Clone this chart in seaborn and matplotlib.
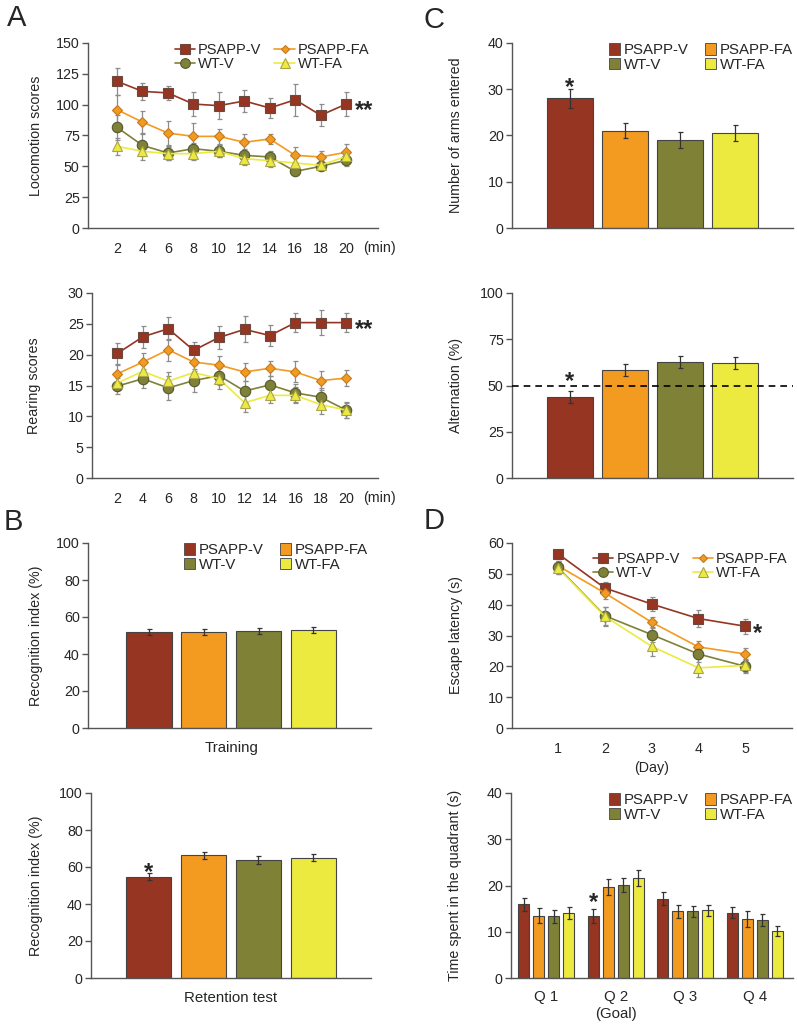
import numpy as np
import pandas as pd
import matplotlib
matplotlib.use("Agg")
import matplotlib.pyplot as plt
import seaborn as sns
from matplotlib.lines import Line2D
from matplotlib.patches import Patch

sns.set_style("white")
plt.rcParams["font.family"] = ["Liberation Sans", "DejaVu Sans"]

# ---------------------------------------------------------------------------
# data
# ---------------------------------------------------------------------------
groups = ["PSAPP-V", "PSAPP-FA", "WT-V", "WT-FA"]
minutes = [2, 4, 6, 8, 10, 12, 14, 16, 18, 20]
days = [1, 2, 3, 4, 5]
quadrants = ["Q 1", "Q 2\n(Goal)", "Q 3", "Q 4"]

loco_mean = {
    "PSAPP-V": [118.9, 110.8, 109.5, 100.5, 99.2, 103.0, 97.3, 104.0, 91.4, 100.5],
    "PSAPP-FA": [95.9, 85.9, 77.0, 74.3, 74.3, 69.5, 72.2, 58.9, 57.6, 61.4],
    "WT-V": [81.6, 67.0, 60.8, 64.3, 62.2, 58.9, 57.6, 45.9, 50.0, 54.9],
    "WT-FA": [66.2, 62.2, 60.3, 60.3, 62.2, 56.2, 54.6, 52.7, 50.8, 58.1],
}
loco_err = {
    "PSAPP-V": [11, 7, 6, 10, 11, 9, 8, 13, 9, 10],
    "PSAPP-FA": [12, 9, 10, 11, 6, 7, 4, 7, 5, 7],
    "WT-V": [10, 9, 6, 5, 5, 5, 5, 3, 3, 5],
    "WT-FA": [7, 7, 5, 5, 5, 5, 5, 4, 3, 4],
}
rear_mean = {
    "PSAPP-V": [20.2, 22.9, 24.2, 20.7, 22.8, 24.1, 23.1, 25.2, 25.2, 25.2],
    "PSAPP-FA": [16.9, 18.8, 20.8, 18.8, 18.3, 17.2, 17.8, 17.2, 15.8, 16.2],
    "WT-V": [14.9, 16.1, 14.6, 15.8, 16.6, 14.1, 15.1, 13.8, 13.1, 11.0],
    "WT-FA": [15.4, 17.3, 15.7, 17.1, 16.1, 12.2, 13.4, 13.4, 11.9, 11.0],
}
rear_err = {
    "PSAPP-V": [1.7, 1.8, 1.9, 1.4, 1.8, 2.1, 1.7, 1.5, 2.0, 1.6],
    "PSAPP-FA": [1.5, 1.5, 1.8, 1.4, 1.5, 1.5, 1.2, 1.7, 1.6, 1.3],
    "WT-V": [1.3, 1.5, 2.0, 1.8, 1.5, 1.7, 1.4, 1.4, 1.5, 1.2],
    "WT-FA": [1.2, 1.4, 1.5, 1.3, 1.7, 1.5, 1.2, 1.3, 1.5, 1.3],
}
training_mean = [51.8, 52.1, 52.5, 52.8]
training_err = [1.6, 1.6, 1.7, 1.6]
retention_mean = [54.8, 66.3, 63.8, 65.1]
retention_err = [2.0, 2.0, 2.0, 2.0]
arms_mean = [28.0, 21.0, 19.0, 20.6]
arms_err = [2.0, 1.6, 1.8, 1.7]
alt_mean = [43.8, 58.4, 62.6, 62.2]
alt_err = [3.0, 3.3, 3.2, 3.3]
latency_mean = {
    "PSAPP-V": [56.5, 45.4, 40.2, 35.5, 33.0],
    "PSAPP-FA": [52.6, 43.8, 34.3, 26.3, 24.0],
    "WT-V": [52.1, 36.4, 30.3, 24.0, 20.0],
    "WT-FA": [51.9, 36.2, 26.5, 19.5, 20.3],
}
latency_err = {
    "PSAPP-V": [1.0, 2.0, 2.3, 2.7, 2.5],
    "PSAPP-FA": [1.5, 2.0, 1.8, 2.0, 1.8],
    "WT-V": [2.0, 3.0, 2.5, 2.5, 2.0],
    "WT-FA": [2.0, 3.0, 3.0, 2.8, 2.0],
}
quad_mean = {
    "PSAPP-V": [15.9, 13.5, 17.1, 14.1],
    "PSAPP-FA": [13.5, 19.7, 14.4, 12.8],
    "WT-V": [13.3, 20.2, 14.4, 12.5],
    "WT-FA": [14.1, 21.6, 14.6, 10.1],
}
quad_err = {
    "PSAPP-V": [1.5, 1.5, 1.4, 1.2],
    "PSAPP-FA": [1.7, 1.7, 1.4, 1.7],
    "WT-V": [1.3, 1.5, 1.2, 1.3],
    "WT-FA": [1.3, 1.7, 1.2, 1.1],
}

# styles
colors = ["#953522", "#F39A21", "#7E8136", "#EDEA3F"]
edges = ["#6a4a40", "#c27a20", "#55582c", "#a9a548"]
markers = ["s", "D", "o", "^"]
msizes = [7.5, 5.0, 7.5, 7.0]
palette = dict(zip(groups, colors))
SPINE = "#555555"
FS = 10.3

W, H = 797, 1027
fig = plt.figure(figsize=(W / 100, H / 100), dpi=100)


def make_ax(left, right, top, bottom):
    return fig.add_axes([left / W, 1 - bottom / H, (right - left) / W, (bottom - top) / H])


def style(ax, ymax, step, ylabel, label_x):
    ax.set_ylim(0, ymax)
    ax.set_yticks(np.arange(0, ymax + 0.1, step))
    for s in ["top", "right"]:
        ax.spines[s].set_visible(False)
    for s in ["left", "bottom"]:
        ax.spines[s].set_color(SPINE)
        ax.spines[s].set_linewidth(1.0)
    ax.tick_params(axis="y", length=4, width=1, color=SPINE, direction="out",
                   labelsize=FS, pad=2, left=True)
    ax.tick_params(axis="x", length=0, labelsize=FS, pad=10)
    ax.set_ylabel(ylabel, fontsize=FS)
    ax.yaxis.set_label_coords(label_x, 0.5)
    ax.set_xlabel("")


def line_legend(ax, anchor):
    order = [0, 2, 1, 3]
    handles = [Line2D([], [], color=colors[i], marker=markers[i], ms=msizes[i] - 0.5,
                      mec=edges[i], mew=0.8, lw=1.2) for i in order]
    ax.legend(handles, [groups[i] for i in order], ncol=2, frameon=False,
              loc="upper right", bbox_to_anchor=anchor, fontsize=FS + 0.2,
              handlelength=1.4, handletextpad=0.2, columnspacing=0.9,
              labelspacing=0.0, borderpad=0, borderaxespad=0)


def bar_legend(ax, anchor):
    order = [0, 2, 1, 3]
    handles = [Patch(facecolor=colors[i], edgecolor="#555555", lw=0.7) for i in order]
    ax.legend(handles, [groups[i] for i in order], ncol=2, frameon=False,
              loc="upper right", bbox_to_anchor=anchor, fontsize=FS + 0.5,
              handlelength=0.75, handleheight=0.8, handletextpad=0.25,
              columnspacing=1.1, labelspacing=0.05, borderpad=0, borderaxespad=0)


def line_panel(ax, x, means, errs):
    for g in groups:
        ax.errorbar(x, means[g], yerr=errs[g], fmt="none", ecolor="#8c8c8c",
                    elinewidth=0.9, capsize=1.8, capthick=0.9, zorder=2)
    for g, c, e, m, ms in zip(groups, colors, edges, markers, msizes):
        sns.lineplot(x=x, y=means[g], color=c, marker=m, ms=ms, mec=e, mew=0.8,
                     lw=1.2, ax=ax, zorder=3)


def bar_panel(ax, means, errs):
    df = pd.DataFrame({"group": groups, "value": means})
    sns.barplot(data=df, x="group", y="value", hue="group", palette=palette,
                order=groups, width=0.83, saturation=1, edgecolor="#444444",
                linewidth=0.8, legend=False, ax=ax)
    ax.errorbar(range(4), means, yerr=errs, fmt="none", ecolor="#333333",
                elinewidth=0.9, capsize=1.8, capthick=0.9, zorder=3)
    ax.set_xticks([])


def star(ax, x, y, s="*", ha="center"):
    ax.text(x, y, s, fontsize=17, fontweight="bold", ha=ha, va="center")


# ---------------------------------------------------------------------------
# A: locomotion / rearing
# ---------------------------------------------------------------------------
axA1 = make_ax(88, 378, 43, 228)
line_panel(axA1, minutes, loco_mean, loco_err)
style(axA1, 150, 25, "Locomotion scores", -0.155)
axA1.set_xlim(-0.28, 22.5)
axA1.set_xticks(minutes)
axA1.text(22.6, -0.108, "(min)", transform=axA1.get_xaxis_transform(),
          ha="center", va="center", fontsize=FS)
star(axA1, 20.7, 95, "**", ha="left")
line_legend(axA1, (0.97, 1.0))

axA2 = make_ax(92, 378, 293, 478)
line_panel(axA2, minutes, rear_mean, rear_err)
style(axA2, 30, 5, "Rearing scores", -0.178)
axA2.set_xlim(-0.0, 22.5)
axA2.set_xticks(minutes)
axA2.text(22.6, -0.108, "(min)", transform=axA2.get_xaxis_transform(),
          ha="center", va="center", fontsize=FS)
star(axA2, 20.7, 24.0, "**", ha="left")

# ---------------------------------------------------------------------------
# B: object recognition
# ---------------------------------------------------------------------------
axB1 = make_ax(88, 371, 543, 728)
bar_panel(axB1, training_mean, training_err)
style(axB1, 100, 20, "Recognition index (%)", -0.159)
axB1.set_xlim(-1.11, 4.05)
axB1.text(1.5, -0.11, "Training", transform=axB1.get_xaxis_transform(),
          ha="center", va="center", fontsize=FS + 0.5)
bar_legend(axB1, (0.99, 1.0))

axB2 = make_ax(91, 371, 793, 978)
bar_panel(axB2, retention_mean, retention_err)
style(axB2, 100, 20, "Recognition index (%)", -0.17)
axB2.set_xlim(-1.05, 4.05)
axB2.text(1.5, -0.11, "Retention test", transform=axB2.get_xaxis_transform(),
          ha="center", va="center", fontsize=FS + 0.5)
star(axB2, 0, 57.0)

# ---------------------------------------------------------------------------
# C: Y-maze
# ---------------------------------------------------------------------------
axC1 = make_ax(512, 793, 43, 228)
bar_panel(axC1, arms_mean, arms_err)
style(axC1, 40, 10, "Number of arms entered", -0.174)
axC1.set_xlim(-1.05, 4.06)
star(axC1, 0, 30.3)
bar_legend(axC1, (1.0, 1.0))

axC2 = make_ax(512, 793, 293, 478)
bar_panel(axC2, alt_mean, alt_err)
style(axC2, 100, 25, "Alternation (%)", -0.174)
axC2.set_xlim(-1.05, 4.06)
axC2.axhline(50, ls=(0, (4, 3)), color="black", lw=1.2, zorder=4)
star(axC2, 0, 52.0)

# ---------------------------------------------------------------------------
# D: water maze
# ---------------------------------------------------------------------------
axD1 = make_ax(512, 792, 543, 728)
line_panel(axD1, days, latency_mean, latency_err)
style(axD1, 60, 10, "Escape latency (s)", -0.174)
axD1.set_xlim(0.016, 6.0)
axD1.set_xticks(days)
axD1.text(3, -0.215, "(Day)", transform=axD1.get_xaxis_transform(),
          ha="center", va="center", fontsize=FS)
star(axD1, 5.17, 30.8, ha="left")
line_legend(axD1, (0.985, 0.95))

axD2 = make_ax(511, 793, 793, 978)
qdf = pd.DataFrame([(q, g, v) for g in groups for q, v in zip(quadrants, quad_mean[g])],
                   columns=["quadrant", "group", "value"])
sns.barplot(data=qdf, x="quadrant", y="value", hue="group", hue_order=groups,
            order=quadrants, palette=palette, width=0.864, gap=0.27, saturation=1,
            edgecolor="#444444", linewidth=0.8, legend=False, ax=axD2)
for g, cont in zip(groups, axD2.containers):
    xs = [p.get_x() + p.get_width() / 2 for p in cont.patches]
    axD2.errorbar(xs, quad_mean[g], yerr=quad_err[g], fmt="none", ecolor="#333333",
                  elinewidth=0.9, capsize=1.8, capthick=0.9, zorder=3)
style(axD2, 40, 10, "Time spent in the quadrant (s)", -0.174)
axD2.set_xlim(-0.51, 3.55)
axD2.tick_params(axis="x", labelsize=FS + 0.5, pad=9)
red_q2 = axD2.containers[0].patches[1]
star(axD2, red_q2.get_x() + red_q2.get_width() / 2, 16.3)
bar_legend(axD2, (1.0, 1.0))

# panel letters
for letter, x, y in [("A", 7, 4), ("B", 4, 508), ("C", 424, 6), ("D", 424, 507)]:
    fig.text(x / W, 1 - y / H, letter, fontsize=21, ha="left", va="top")

fig.savefig("out.png", dpi=100)
